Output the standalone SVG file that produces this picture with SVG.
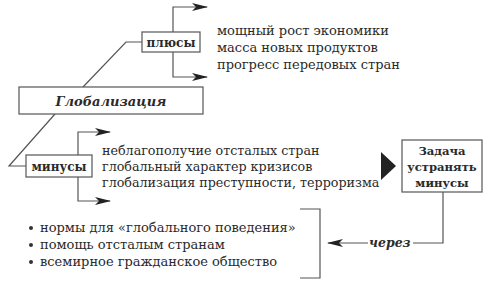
<svg xmlns="http://www.w3.org/2000/svg" width="489" height="294" viewBox="0 0 489 294">
<defs>
<style>
text{font-family:'DejaVu Serif','Liberation Serif',serif;font-size:13px;fill:#2a2a2a}
.b{font-weight:bold;text-anchor:middle;font-size:12px}
.bi{font-weight:bold;font-style:italic}
.box{fill:#fff;stroke:#555;stroke-width:1.2}
.ln{fill:none;stroke:#555;stroke-width:1.2}
</style>
<marker id="ah" viewBox="0 0 16 8" refX="15" refY="4" markerWidth="16" markerHeight="8" markerUnits="userSpaceOnUse" orient="auto">
<path d="M0,0 L16,4 L0,8 L4,4 Z" fill="#222"/>
</marker>
</defs>
<rect width="489" height="294" fill="#fff"/>
<g id="connectors">
<path class="ln" d="M83,87 L126,42 H142"/>
<path class="ln" d="M55,114 L9,166 H26"/>
<path class="ln" d="M173,32 V7 H207" marker-end="url(#ah)"/>
<path class="ln" d="M173,52 V77 H207" marker-end="url(#ah)"/>
<path class="ln" d="M78,155 V132 H110" marker-end="url(#ah)"/>
<path class="ln" d="M78,177 V201 H110" marker-end="url(#ah)"/>
<path class="ln" d="M443,192 V243 H413"/>
<path class="ln" d="M368,243 H328" marker-end="url(#ah)"/>
<path class="ln" d="M300,209 H320 V278 H300"/>
</g>
<g id="globalization">
<rect class="box" x="19" y="87" width="184" height="27"/>
<text class="bi" x="111" y="105.5" text-anchor="middle" style="font-size:13px">Глобализация</text>
</g>
<g id="plus">
<rect class="box" x="142" y="32" width="58" height="20"/>
<text class="b" x="171" y="46.5">плюсы</text>
</g>
<g id="plus-list">
<text x="217" y="35">мощный рост экономики</text>
<text x="217" y="52">масса новых продуктов</text>
<text x="217" y="69">прогресс передовых стран</text>
</g>
<g id="minus">
<rect class="box" x="26" y="155" width="66" height="22"/>
<text class="b" x="59" y="170.5">минусы</text>
</g>
<g id="minus-list" style="font-size:12.7px">
<text x="102" y="155" style="font-size:12.7px">неблагополучие отсталых стран</text>
<text x="102" y="171" style="font-size:12.7px">глобальный характер кризисов</text>
<text x="102" y="187" style="font-size:12.7px">глобализация преступности, терроризма</text>
</g>
<g id="pointer">
<polygon points="381,152 396,166 381,180" fill="#222"/>
</g>
<g id="task">
<rect class="box" x="402" y="140" width="80" height="52"/>
<text class="b" x="442" y="155" style="font-size:11.6px">Задача</text>
<text class="b" x="442" y="171" style="font-size:11.6px">устранять</text>
<text class="b" x="442" y="187" style="font-size:11.6px">минусы</text>
</g>
<g id="via">
<text class="bi" x="369" y="247" style="font-size:12.5px">через</text>
</g>
<g id="means">
<circle cx="31" cy="228" r="2" fill="#333"/>
<circle cx="31" cy="245" r="2" fill="#333"/>
<circle cx="31" cy="262" r="2" fill="#333"/>
<text x="40" y="232">нормы для «глобального поведения»</text>
<text x="40" y="249">помощь отсталым странам</text>
<text x="40" y="266">всемирное гражданское общество</text>
</g>
</svg>
